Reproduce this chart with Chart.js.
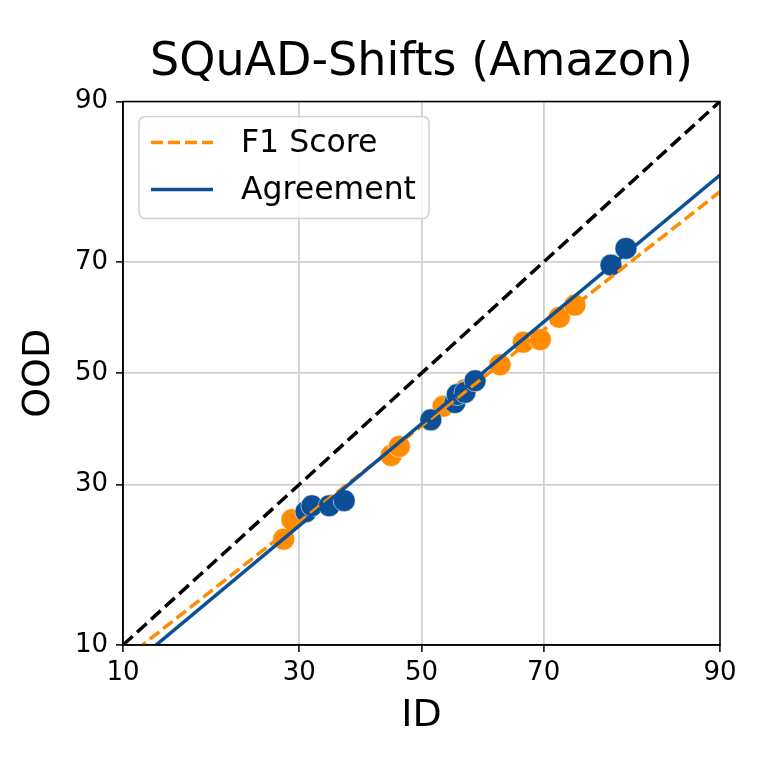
<!DOCTYPE html>
<html>
<head>
<meta charset="utf-8">
<script src="https://cdn.jsdelivr.net/npm/chart.js@4.4.1/dist/chart.umd.min.js"></script>
<style>
  html, body { margin: 0; padding: 0; background: #fff; }
  #wrap { width: 761px; height: 761px; }
</style>
</head>
<body>
<div id="wrap"><canvas id="chart"></canvas></div>
<script>
// tick labels (percent, probit-scaled axes)
const tickValues = [10, 30, 50, 70, 90];

// F1 score points: ID (x) vs OOD (y)
const f1Id  = [27.7, 28.9, 44.8, 46.2, 53.7, 57.4, 63.2, 66.9, 69.5, 72.3, 74.5];
const f1Ood = [21.7, 24.5, 34.9, 36.5, 43.8, 46.9, 51.6, 55.8, 56.3, 60.4, 62.6];

// agreement points
const agId  = [31.0, 31.9, 34.6, 37.0, 51.6, 55.7, 56.1, 57.4, 59.1, 79.2, 81.0];
const agOod = [25.7, 26.6, 26.6, 27.4, 41.3, 44.5, 46.0, 46.4, 48.6, 69.5, 72.2];

// fitted lines (end points, straight in probit space)
const f1FitX = [10, 90];
const f1FitY = [8.8, 80.4];
const agFitX = [10, 90];
const agFitY = [7.9, 82.5];
const diagX = [10, 90];
const diagY = [10, 90];

const ORANGE = '#ff8c00';
const BLUE = '#0b4f96';

function toPoints(xs, ys) {
    return xs.map((x, i) => ({ x: x, y: ys[i] }));
}

// inverse normal CDF (Acklam)
function probit(p) {
    const a = [-39.69683028665376, 220.9460984245205, -275.9285104469687, 138.3577518672690, -30.66479806614716, 2.506628277459239];
    const b = [-54.47609879822406, 161.5858368580409, -155.6989798598866, 66.80131188771972, -13.28068155288572];
    const c = [-0.007784894002430293, -0.3223964580411365, -2.400758277161838, -2.549732539343734, 4.374664141464968, 2.938163982698783];
    const d = [0.007784695709041462, 0.3224671290700398, 2.445134137142996, 3.754408661907416];
    const lo = 0.02425;
    let q, r;
    if (p < lo) {
        q = Math.sqrt(-2 * Math.log(p));
        return (((((c[0]*q + c[1])*q + c[2])*q + c[3])*q + c[4])*q + c[5]) / ((((d[0]*q + d[1])*q + d[2])*q + d[3])*q + 1);
    }
    if (p > 1 - lo) {
        q = Math.sqrt(-2 * Math.log(1 - p));
        return -(((((c[0]*q + c[1])*q + c[2])*q + c[3])*q + c[4])*q + c[5]) / ((((d[0]*q + d[1])*q + d[2])*q + d[3])*q + 1);
    }
    q = p - 0.5;
    r = q * q;
    return (((((a[0]*r + a[1])*r + a[2])*r + a[3])*r + a[4])*r + a[5]) * q / (((((b[0]*r + b[1])*r + b[2])*r + b[3])*r + b[4])*r + 1);
}

function normCdf(z) {
    const t = 1 / (1 + 0.2316419 * Math.abs(z));
    const poly = t * (0.319381530 + t * (-0.356563782 + t * (1.781477937 + t * (-1.821255978 + t * 1.330274429))));
    const v = 1 - Math.exp(-z * z / 2) / Math.sqrt(2 * Math.PI) * poly;
    return z >= 0 ? v : 1 - v;
}

class ProbitScale extends Chart.LinearScale {
    static id = 'probit';
    static defaults = Chart.LinearScale.defaults;

    buildTicks() {
        return tickValues.map(v => ({ value: v }));
    }

    getPixelForValue(value) {
        if (value === null || value === undefined) return NaN;
        const a = probit(this.min / 100);
        const b = probit(this.max / 100);
        return this.getPixelForDecimal((probit(value / 100) - a) / (b - a));
    }

    getValueForPixel(pixel) {
        const a = probit(this.min / 100);
        const b = probit(this.max / 100);
        return 100 * normCdf(a + this.getDecimalForPixel(pixel) * (b - a));
    }
}
Chart.register(ProbitScale);

Chart.defaults.font.family = '"DejaVu Sans", sans-serif';
Chart.defaults.color = '#000';

// frame, title and legend in matplotlib style
const decorPlugin = {
    id: 'decor',
    afterDraw(chart) {
        const { ctx, chartArea: ca } = chart;
        ctx.save();
        ctx.strokeStyle = '#000';
        ctx.lineWidth = 1.5;
        ctx.strokeRect(ca.left, ca.top, ca.right - ca.left, ca.bottom - ca.top);

        ctx.fillStyle = '#000';
        ctx.font = '46px "DejaVu Sans"';
        ctx.textAlign = 'center';
        ctx.textBaseline = 'alphabetic';
        ctx.fillText('SQuAD-Shifts (Amazon)', (ca.left + ca.right) / 2, 75);

        // legend box
        const bx = ca.left + 16, by = ca.top + 15, bw = 290, bh = 102;
        ctx.beginPath();
        ctx.roundRect(bx, by, bw, bh, 6);
        ctx.fillStyle = 'rgba(255,255,255,0.8)';
        ctx.fill();
        ctx.strokeStyle = '#d0d0d0';
        ctx.lineWidth = 1.5;
        ctx.stroke();

        const items = [
            { label: 'F1 Score', color: ORANGE, dash: [12, 5], y: by + 26 },
            { label: 'Agreement', color: BLUE, dash: [], y: by + 73 }
        ];
        ctx.font = '31.5px "DejaVu Sans"';
        ctx.textAlign = 'left';
        ctx.textBaseline = 'middle';
        items.forEach(it => {
            ctx.beginPath();
            ctx.setLineDash(it.dash);
            ctx.strokeStyle = it.color;
            ctx.lineWidth = 3.5;
            ctx.moveTo(bx + 12, it.y);
            ctx.lineTo(bx + 74, it.y);
            ctx.stroke();
            ctx.setLineDash([]);
            ctx.fillStyle = '#000';
            ctx.fillText(it.label, bx + 102, it.y + 1);
        });
        ctx.restore();
    }
};

const axisCommon = {
    type: 'probit',
    min: 10,
    max: 90,
    grid: {
        color: '#d0d0d0',
        lineWidth: 1.8,
        tickColor: '#000',
        tickLength: 7,
        tickWidth: 1.5
    },
    border: { color: '#000', width: 1.5 },
    ticks: {
        font: { size: 26 },
        color: '#000',
        callback: v => String(v)
    }
};

new Chart(document.getElementById('chart'), {
    type: 'scatter',
    data: {
        datasets: [
            {
                label: 'y = x',
                data: toPoints(diagX, diagY),
                showLine: true,
                borderColor: '#000',
                borderWidth: 3.5,
                borderDash: [13, 6],
                pointRadius: 0
            },
            {
                label: 'Agreement',
                data: toPoints(agFitX, agFitY),
                showLine: true,
                borderColor: BLUE,
                borderWidth: 3.5,
                pointRadius: 0
            },
            {
                label: 'F1 Score',
                data: toPoints(f1FitX, f1FitY),
                showLine: true,
                borderColor: ORANGE,
                borderWidth: 3.5,
                borderDash: [12, 5],
                pointRadius: 0
            },
            {
                label: 'Agreement points',
                data: toPoints(agId, agOod),
                backgroundColor: BLUE,
                borderColor: 'rgba(255,255,255,0.7)',
                borderWidth: 0.8,
                pointRadius: 11
            },
            {
                label: 'F1 points',
                data: toPoints(f1Id, f1Ood),
                backgroundColor: ORANGE,
                borderColor: 'rgba(255,255,255,0.7)',
                borderWidth: 0.8,
                pointRadius: 11
            }
        ]
    },
    options: {
        responsive: true,
        maintainAspectRatio: false,
        animation: false,
        devicePixelRatio: 1,
        layout: { padding: { left: 0, top: 101.5, right: 41, bottom: 0 } },
        plugins: {
            legend: { display: false },
            title: { display: false },
            tooltip: { enabled: false }
        },
        scales: {
            x: Object.assign({}, axisCommon, {
                position: 'bottom',
                title: { display: true, text: 'ID', font: { size: 38 }, padding: { top: 0, bottom: 22 } },
                ticks: Object.assign({}, axisCommon.ticks, { padding: 6, maxRotation: 0 }),
                afterFit(scale) { scale.height = 116; }
            }),
            y: Object.assign({}, axisCommon, {
                position: 'left',
                title: { display: true, text: 'OOD', font: { size: 38 }, padding: { top: 16, bottom: 0 } },
                ticks: Object.assign({}, axisCommon.ticks, { padding: 8 }),
                afterFit(scale) { scale.width = 123; }
            })
        }
    },
    plugins: [decorPlugin]
});
</script>
</body>
</html>
